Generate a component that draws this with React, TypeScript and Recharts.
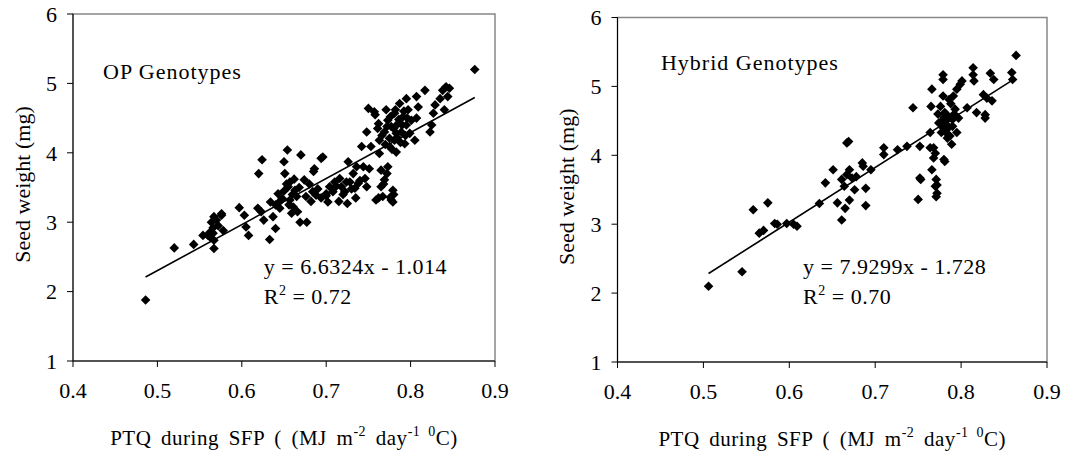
import React from 'react';
import { ScatterChart, Scatter, XAxis, YAxis, ReferenceLine, ReferenceArea, ReferenceDot, Label } from 'recharts';

const FONT = "'Liberation Serif', 'Times New Roman', serif";

const xTicks = [0.4, 0.5, 0.6, 0.7, 0.8, 0.9];
const yTicks = [1, 2, 3, 4, 5, 6];

// [PTQ, seed weight]
const opPoints: [number, number][] = [
  [0.486, 1.88], [0.520, 2.63], [0.543, 2.68], [0.554, 2.81], [0.560, 2.81], [0.566, 2.84],
  [0.564, 3.00], [0.567, 3.08], [0.570, 3.03], [0.576, 3.10], [0.578, 2.88], [0.567, 2.62],
  [0.567, 2.74], [0.562, 2.79], [0.572, 2.95], [0.566, 2.92], [0.562, 2.85], [0.576, 3.12],
  [0.597, 3.21], [0.603, 3.10], [0.605, 2.93], [0.608, 2.81], [0.620, 3.70], [0.624, 3.90],
  [0.619, 3.20], [0.623, 3.15], [0.626, 3.03], [0.633, 2.75], [0.634, 3.29], [0.637, 3.08],
  [0.640, 2.91], [0.640, 3.25], [0.643, 3.41], [0.645, 3.20], [0.645, 3.30], [0.648, 3.34],
  [0.650, 3.87], [0.650, 3.45], [0.654, 4.04], [0.651, 3.70], [0.653, 3.55], [0.657, 3.58],
  [0.655, 3.51], [0.656, 3.25], [0.657, 3.32], [0.659, 3.13], [0.660, 3.40], [0.661, 3.22],
  [0.662, 3.62], [0.663, 3.46], [0.665, 3.37], [0.666, 3.15], [0.668, 3.50], [0.669, 3.00],
  [0.677, 3.00], [0.670, 3.97], [0.674, 3.61], [0.676, 3.37], [0.680, 3.55], [0.682, 3.30],
  [0.684, 3.44], [0.685, 3.73], [0.686, 3.77], [0.688, 3.39], [0.690, 3.48], [0.694, 3.35],
  [0.694, 3.92], [0.696, 3.94], [0.700, 3.41], [0.700, 3.38], [0.702, 3.29], [0.704, 3.51],
  [0.708, 3.44], [0.710, 3.58], [0.712, 3.52], [0.715, 3.30], [0.716, 3.63], [0.718, 3.51],
  [0.720, 3.40], [0.722, 3.44], [0.724, 3.58], [0.725, 3.27], [0.726, 3.87], [0.728, 3.58],
  [0.730, 3.48], [0.732, 3.70], [0.734, 3.49], [0.735, 3.35], [0.736, 3.80], [0.738, 3.56],
  [0.740, 3.60], [0.742, 4.09], [0.744, 3.80], [0.746, 3.63], [0.748, 3.51], [0.748, 4.30],
  [0.750, 4.64], [0.751, 3.77], [0.753, 4.09], [0.757, 4.59], [0.758, 4.55], [0.759, 3.32],
  [0.761, 4.35], [0.762, 4.42], [0.762, 3.35], [0.763, 4.18], [0.763, 3.99], [0.765, 3.75],
  [0.765, 3.51], [0.766, 4.25], [0.767, 3.37], [0.768, 3.55], [0.769, 3.61], [0.769, 4.30],
  [0.770, 4.12], [0.771, 4.62], [0.772, 4.38], [0.772, 3.70], [0.773, 4.47], [0.773, 3.80],
  [0.775, 4.21], [0.775, 4.09], [0.776, 4.52], [0.776, 3.36], [0.777, 4.38], [0.777, 3.32],
  [0.778, 4.05], [0.779, 3.46], [0.779, 3.29], [0.780, 4.35], [0.780, 3.40], [0.781, 4.57],
  [0.781, 4.18], [0.782, 4.62], [0.783, 4.28], [0.783, 4.01], [0.784, 4.22], [0.785, 4.42],
  [0.786, 4.48], [0.787, 4.71], [0.788, 4.15], [0.789, 4.30], [0.790, 4.40], [0.791, 4.52],
  [0.792, 4.60], [0.793, 4.13], [0.794, 4.25], [0.795, 4.78], [0.795, 4.40], [0.796, 4.50],
  [0.797, 4.62], [0.799, 4.28], [0.801, 4.47], [0.805, 4.18], [0.807, 4.81], [0.807, 4.50],
  [0.809, 4.66], [0.817, 4.90], [0.823, 4.30], [0.825, 4.40], [0.827, 4.57], [0.829, 4.69],
  [0.835, 4.78], [0.838, 4.90], [0.840, 4.62], [0.842, 4.95], [0.844, 4.81], [0.846, 4.93],
  [0.876, 5.20],
];

const hybridPoints: [number, number][] = [
  [0.506, 2.10], [0.545, 2.31], [0.558, 3.21], [0.565, 2.87], [0.570, 2.91], [0.575, 3.31],
  [0.583, 3.01], [0.586, 3.00], [0.597, 3.01], [0.605, 3.00], [0.609, 2.97], [0.635, 3.30],
  [0.642, 3.60], [0.651, 3.79], [0.656, 3.31], [0.661, 3.06], [0.661, 3.65], [0.664, 3.55],
  [0.665, 3.23], [0.667, 4.18], [0.669, 4.20], [0.667, 3.72], [0.670, 3.79], [0.670, 3.35],
  [0.673, 3.67], [0.676, 3.50], [0.678, 3.69], [0.685, 3.89], [0.686, 3.84], [0.689, 3.52],
  [0.689, 3.27], [0.695, 3.79], [0.710, 4.11], [0.710, 4.01], [0.726, 4.08], [0.737, 4.13],
  [0.744, 4.69], [0.750, 3.36], [0.752, 3.67], [0.753, 3.65], [0.752, 4.13], [0.764, 4.33],
  [0.765, 4.71], [0.766, 4.96], [0.764, 4.11], [0.766, 3.79], [0.768, 4.11], [0.768, 3.96],
  [0.770, 4.03], [0.771, 3.65], [0.772, 3.57], [0.772, 3.45], [0.771, 3.40], [0.770, 3.55],
  [0.774, 4.47], [0.773, 4.60], [0.776, 4.71], [0.776, 4.48], [0.777, 4.33], [0.779, 5.17],
  [0.779, 5.10], [0.779, 4.86], [0.779, 4.40], [0.780, 3.94], [0.780, 4.55], [0.781, 3.91],
  [0.781, 4.62], [0.782, 4.50], [0.782, 4.45], [0.783, 4.37], [0.784, 4.57], [0.784, 4.25],
  [0.785, 4.42], [0.785, 4.30], [0.786, 4.81], [0.787, 4.28], [0.787, 4.55], [0.788, 4.75],
  [0.789, 4.16], [0.790, 4.52], [0.790, 4.42], [0.791, 4.86], [0.792, 4.60], [0.793, 4.67],
  [0.795, 4.33], [0.795, 4.96], [0.797, 4.54], [0.799, 5.03], [0.801, 5.08], [0.807, 4.69],
  [0.814, 5.27], [0.814, 5.17], [0.815, 5.08], [0.818, 4.62], [0.826, 4.88], [0.828, 4.59],
  [0.828, 4.54], [0.830, 4.83], [0.834, 5.19], [0.836, 4.79], [0.838, 5.10], [0.859, 5.20],
  [0.860, 5.10], [0.864, 5.45],
];

const opFit = { slope: 6.6324, intercept: -1.014, from: 0.486, to: 0.876 };
const hybridFit = { slope: 7.9299, intercept: -1.728, from: 0.506, to: 0.858 };

const Diamond = (props: any) => {
  const { cx, cy } = props;
  const r = 4.8;
  return <polygon points={`${cx},${cy - r} ${cx + r},${cy} ${cx},${cy + r} ${cx - r},${cy}`} fill="#000" />;
};

const XTitle = ({ viewBox }: any) => {
  const cx = viewBox.x + viewBox.width / 2;
  return (
    <text x={cx} y={viewBox.y + 84} textAnchor="middle" fontFamily={FONT} fontSize={21} fill="#000"
      letterSpacing={0.5} wordSpacing={4}>
      PTQ during SFP ( (MJ m
      <tspan dy={-9} fontSize={14}>-2</tspan>
      <tspan dy={9}> day</tspan>
      <tspan dy={-9} fontSize={14}>-1 0</tspan>
      <tspan dy={9}>C)</tspan>
    </text>
  );
};

const YTitle = ({ viewBox }: any) => {
  const cx = viewBox.x + viewBox.width - 51;
  const cy = viewBox.y + viewBox.height / 2 - 3;
  return (
    <text x={cx} y={cy} transform={`rotate(-90 ${cx} ${cy})`} textAnchor="middle" dominantBaseline="central"
      fontFamily={FONT} fontSize={22} fill="#000">
      Seed weight (mg)
    </text>
  );
};

const note = (children: React.ReactNode, spacing = 0.5) => ({ viewBox }: any) => (
  <text x={viewBox.x} y={viewBox.y} fontFamily={FONT} fontSize={22} fill="#000" letterSpacing={spacing}>
    {children}
  </text>
);

interface PanelProps {
  points: [number, number][];
  fit: { slope: number; intercept: number; from: number; to: number };
  title: string;
  titleAt: [number, number];
  eqAt: [number, number];
  r2At: [number, number];
  r2: string;
  margin: { top: number; right: number; left: number; bottom: number };
  left: number;
}

const Panel: React.FC<PanelProps> = ({ points, fit, title, titleAt, eqAt, r2At, r2, margin, left }) => {
  const data = points.map(([x, y]) => ({ x, y }));
  const sign = fit.intercept < 0 ? '-' : '+';
  const eq = `y = ${fit.slope.toFixed(4)}x ${sign} ${Math.abs(fit.intercept).toFixed(3)}`;
  const tickStyle = { fill: '#000', fontSize: 22, fontFamily: FONT };
  return (
    <div style={{ position: 'absolute', left, top: 0 }}>
      <ScatterChart width={530} height={457} margin={margin}>
        <ReferenceArea x1={0.4} x2={0.9} y1={1} y2={6} fill="none" stroke="#888" strokeWidth={1.5} />
        <XAxis type="number" dataKey="x" domain={[0.4, 0.9]} ticks={xTicks} height={30}
          tickFormatter={(v: number) => v.toFixed(1)} tick={tickStyle} tickSize={6} tickMargin={15}
          axisLine={{ stroke: '#000' }} tickLine={{ stroke: '#000' }} interval={0}>
          <Label content={XTitle} />
        </XAxis>
        <YAxis type="number" dataKey="y" domain={[1, 6]} ticks={yTicks} width={73}
          tick={tickStyle} tickSize={6} tickMargin={10}
          axisLine={{ stroke: '#000' }} tickLine={{ stroke: '#000' }} interval={0}>
          <Label content={YTitle} />
        </YAxis>
        <Scatter data={data} shape={Diamond} isAnimationActive={false} />
        <ReferenceLine
          segment={[
            { x: fit.from, y: fit.slope * fit.from + fit.intercept },
            { x: fit.to, y: fit.slope * fit.to + fit.intercept },
          ]}
          stroke="#000" strokeWidth={1.6}
        />
        <ReferenceDot x={titleAt[0]} y={titleAt[1]} r={0} fill="none" stroke="none"
          label={<Label content={note(title, 1)} />} />
        <ReferenceDot x={eqAt[0]} y={eqAt[1]} r={0} fill="none" stroke="none"
          label={<Label content={note(eq)} />} />
        <ReferenceDot x={r2At[0]} y={r2At[1]} r={0} fill="none" stroke="none"
          label={<Label content={note(<>R<tspan dy={-9} fontSize={14}>2</tspan><tspan dy={9}> = {r2}</tspan></>)} />} />
      </ScatterChart>
    </div>
  );
};

export default function App() {
  return (
    <div style={{ position: 'absolute', left: 0, top: 0, width: 1065, height: 457, background: '#fff' }}>
      <Panel points={opPoints} fit={opFit} title="OP Genotypes" r2="0.72"
        titleAt={[0.4356, 5.063]} eqAt={[0.626, 2.254]} r2At={[0.626, 1.821]}
        margin={{ top: 14, right: 35, left: 0, bottom: 66 }} left={0} />
      <Panel points={hybridPoints} fit={hybridFit} title="Hybrid Genotypes" r2="0.70"
        titleAt={[0.4506, 5.238]} eqAt={[0.616, 2.277]} r2At={[0.616, 1.842]}
        margin={{ top: 17.5, right: 18, left: 9.5, bottom: 65 }} left={535} />
    </div>
  );
}
